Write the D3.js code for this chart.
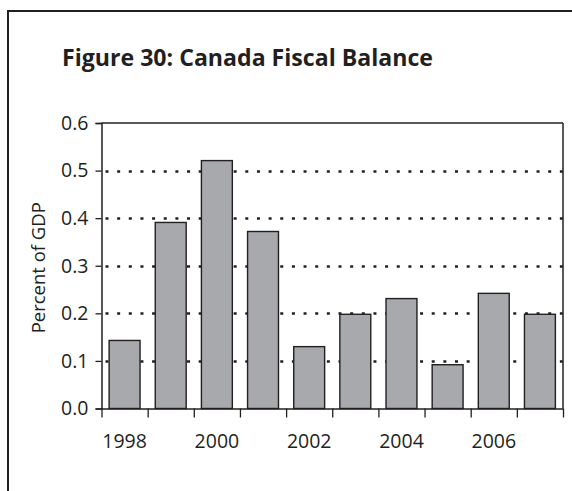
<!DOCTYPE html>
<html>
<head>
<meta charset="utf-8">
<script src="https://cdn.jsdelivr.net/npm/d3@7"></script>
<style>
  html, body { margin: 0; padding: 0; background: #fff; }
  svg { display: block; }
  text { font-family: "Open Sans", "Noto Sans", sans-serif; fill: #231f20; }
</style>
</head>
<body>
<svg id="chart" width="572" height="491"></svg>
<script>
const title = "Figure 30: Canada Fiscal Balance";
const yAxisTitle = "Percent of GDP";
const years = [1998, 1999, 2000, 2001, 2002, 2003, 2004, 2005, 2006, 2007];
const balance = [0.143, 0.391, 0.521, 0.372, 0.130, 0.198, 0.231, 0.092, 0.242, 0.198];
const yTicks = [0, 0.1, 0.2, 0.3, 0.4, 0.5, 0.6];
const gridValues = [0.1, 0.2, 0.3, 0.4, 0.5];
const xLabelYears = [1998, 2000, 2002, 2004, 2006];

(function () {
const ink = "#231f20";
const barFill = "#a7a9ac";

const svg = d3.select("#chart");

// outer frame (extends past the right and bottom edges)
svg.append("rect")
  .attr("x", 8).attr("y", 11)
  .attr("width", 700).attr("height", 700)
  .attr("fill", "none").attr("stroke", ink).attr("stroke-width", 2);

// title
const t = svg.append("text")
  .attr("x", 62).attr("y", 66)
  .attr("font-weight", 700)
  .attr("font-size", 24)
  .text(title);
t.attr("textLength", 371).attr("lengthAdjust", "spacingAndGlyphs");

const pL = 101.5, pR = 563, pT = 123, pB = 408.5;

const x = d3.scaleBand().domain(years).range([pL, pR]).paddingInner(0.33).paddingOuter(0.165);
const xb = d3.scaleLinear().domain([0, years.length]).range([pL, pR]);
const y = d3.scaleLinear().domain([0, 0.6]).range([pB, pT]);

// dotted gridlines
svg.append("g").selectAll("line").data(gridValues).join("line")
  .attr("x1", pL + 4).attr("x2", pR)
  .attr("y1", d => Math.round(y(d)) + 0.5).attr("y2", d => Math.round(y(d)) + 0.5)
  .attr("stroke", ink).attr("stroke-width", 2.6)
  .attr("stroke-dasharray", "3 8.65");

// plot frame top and right
svg.append("line").attr("x1", pL).attr("x2", pR).attr("y1", pT).attr("y2", pT)
  .attr("stroke", ink).attr("stroke-width", 1.5);
svg.append("line").attr("x1", pR).attr("x2", pR).attr("y1", pT).attr("y2", pB)
  .attr("stroke", ink).attr("stroke-width", 1.5);

// bars
svg.append("g").selectAll("rect").data(years).join("rect")
  .attr("x", d => x(d))
  .attr("width", x.bandwidth())
  .attr("y", (d, i) => y(balance[i]))
  .attr("height", (d, i) => y(0) - y(balance[i]))
  .attr("fill", barFill)
  .attr("stroke", ink).attr("stroke-width", 1.4);

// y axis
const yAxis = svg.append("g")
  .attr("transform", `translate(${pL},0)`)
  .call(d3.axisLeft(y).tickValues(yTicks).tickFormat(d3.format(".1f")).tickSize(6).tickPadding(7));
yAxis.select(".domain").attr("stroke", ink).attr("stroke-width", 1.5);
yAxis.selectAll(".tick line").attr("stroke", ink).attr("stroke-width", 1.3);
yAxis.selectAll(".tick text").attr("font-size", 19.5).attr("font-family", "Open Sans").attr("fill", ink);

// x axis: boundary ticks
const xAxisTicks = svg.append("g")
  .attr("transform", `translate(0,${pB})`)
  .call(d3.axisBottom(xb).tickValues(d3.range(0, years.length + 1)).tickFormat("").tickSize(9).tickSizeOuter(0));
xAxisTicks.select(".domain").attr("stroke", ink).attr("stroke-width", 1.5);
xAxisTicks.selectAll(".tick line").attr("stroke", ink).attr("stroke-width", 1.3);

// x axis labels
const xAxisLabels = svg.append("g")
  .attr("transform", `translate(0,${pB})`)
  .call(d3.axisBottom(x).tickValues(xLabelYears).tickSize(0).tickPadding(26));
xAxisLabels.select(".domain").remove();
xAxisLabels.selectAll(".tick text").attr("font-size", 19.5).attr("font-family", "Open Sans").attr("fill", ink);

// y axis title
svg.append("text")
  .attr("transform", `translate(45,${(pT + pB) / 2 + 2}) rotate(-90)`)
  .attr("text-anchor", "middle")
  .attr("font-size", 18.5)
  .text(yAxisTitle);
})();
</script>
</body>
</html>
